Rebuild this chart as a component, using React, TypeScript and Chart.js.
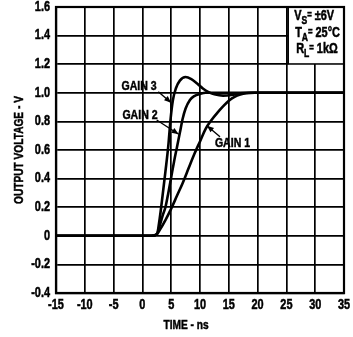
import React, { useEffect, useRef } from "react";
import { Chart, registerables } from "chart.js";

Chart.register(...registerables);

const gain1Time = [-15, 1.5, 2.5, 3, 4, 5, 6, 7, 8, 9, 10, 11, 12, 13, 14, 15, 16, 17, 18, 19.5, 35];
const gain1Volt = [0, 0, 0.01, 0.04, 0.11, 0.19, 0.28, 0.37, 0.47, 0.57, 0.66, 0.75, 0.81, 0.86, 0.905, 0.945, 0.972, 0.988, 0.997, 1.0, 1.0];

const gain2Time = [-15, 1.5, 2.5, 3, 3.5, 4, 4.5, 5, 5.5, 6, 6.5, 7, 7.5, 8.25, 9, 10, 11, 35];
const gain2Volt = [0, 0, 0.01, 0.07, 0.14, 0.2, 0.3, 0.41, 0.52, 0.62, 0.72, 0.82, 0.89, 0.95, 0.977, 0.992, 1.0, 1.0];

const gain3Time = [-15, 1.5, 2.5, 3, 3.5, 4, 4.5, 4.9, 5.3, 5.8, 6.5, 7.5, 8.5, 9.5, 10.5, 11.5, 12.5, 14, 15.5, 17, 18.5, 35];
const gain3Volt = [0, 0, 0.01, 0.12, 0.28, 0.45, 0.63, 0.82, 0.95, 1.03, 1.085, 1.11, 1.095, 1.065, 1.03, 1.005, 0.99, 0.98, 0.985, 0.997, 1.0, 1.0];

const xTicks = [-15, -10, -5, 0, 5, 10, 15, 20, 25, 30, 35];
const xTickLabels = ["-15", "-10", "-5", "0", "5", "10", "15", "20", "25", "30", "35"];
const yTicks = [-0.4, -0.2, 0, 0.2, 0.4, 0.6, 0.8, 1.0, 1.2, 1.4, 1.6];
const yTickLabels = ["-0.4", "-0.2", "0", "0.2", "0.4", "0.6", "0.8", "1.0", "1.2", "1.4", "1.6"];

const xTitle = "TIME - ns";
const yTitle = "OUTPUT VOLTAGE - V";
const conditionMain = ["V", "T", "R"];
const conditionSub = ["S", "A", "L"];
const conditionValue = ["±6V", "25°C", "1kΩ"];
const gainLabels = ["GAIN 1", "GAIN 2", "GAIN 3"];

const FONT = "'Liberation Sans', Arial, sans-serif";
const SQ = 0.78; // horizontal condensing of the lettering

function pts(t: number[], v: number[]) {
  return t.map((x, i) => ({ x, y: v[i] }));
}

function narrowText(ctx: any, text: string, x: number, y: number, size: number, align: string, baseline: string) {
  ctx.save();
  ctx.font = `bold ${size}px ${FONT}`;
  ctx.textBaseline = baseline;
  ctx.textAlign = "left";
  const w = ctx.measureText(text).width * SQ;
  let left = x;
  if (align === "center") left = x - w / 2;
  else if (align === "right") left = x - w;
  ctx.translate(left, y);
  ctx.scale(SQ, 1);
  ctx.fillStyle = "#000";
  ctx.strokeStyle = "#000";
  ctx.lineWidth = 0.5;
  ctx.fillText(text, 0, 0);
  ctx.strokeText(text, 0, 0);
  ctx.restore();
  return w;
}

const annot = {
  id: "annot",
  afterDraw(chart: any) {
    const { ctx, chartArea: a, scales } = chart;
    const xs = scales.x;
    const ys = scales.y;
    const px = (t: number) => xs.getPixelForValue(t);
    const py = (v: number) => ys.getPixelForValue(v);
    ctx.save();
    ctx.fillStyle = "#000";
    ctx.strokeStyle = "#000";

    // condition box
    const bx = px(25.3);
    const bBottom = py(1.2);
    ctx.fillStyle = "#fff";
    ctx.fillRect(bx, a.top, a.right - bx, bBottom - a.top - 1);
    ctx.fillStyle = "#000";
    ctx.lineWidth = 1.7;
    ctx.beginPath();
    ctx.moveTo(bx, a.top);
    ctx.lineTo(bx, bBottom);
    ctx.stroke();

    const rowBase = [20, 37, 53];
    const rowX = [bx + 6, bx + 7, bx + 8];
    for (let i = 0; i < 3; i++) {
      let cx = rowX[i];
      const base = a.top + rowBase[i] - 7;
      cx += narrowText(ctx, conditionMain[i], cx, base, 14, "left", "alphabetic");
      cx += narrowText(ctx, conditionSub[i], cx, base + 4, 11, "left", "alphabetic");
      cx += narrowText(ctx, "=", cx, base - 2, 10, "left", "alphabetic") + 3;
      narrowText(ctx, conditionValue[i], cx, base, 14, "left", "alphabetic");
    }

    // frame
    ctx.lineWidth = 2.2;
    ctx.strokeRect(a.left, a.top, a.right - a.left, a.bottom - a.top);

    // tick labels
    xTicks.forEach((v, i) => narrowText(ctx, xTickLabels[i], px(v), a.bottom + 12, 14, "center", "middle"));
    yTicks.forEach((v, i) => narrowText(ctx, yTickLabels[i], a.left - 6, py(v), 14, "right", "middle"));

    // gain labels with leaders
    const arrow = (x1: number, y1: number, x2: number, y2: number) => {
      ctx.lineWidth = 1.4;
      ctx.beginPath();
      ctx.moveTo(x1, y1);
      ctx.lineTo(x2, y2);
      ctx.stroke();
      const ang = Math.atan2(y2 - y1, x2 - x1);
      const L = 7, W = 2.8;
      ctx.beginPath();
      ctx.moveTo(x2, y2);
      ctx.lineTo(x2 - L * Math.cos(ang) + W * Math.sin(ang), y2 - L * Math.sin(ang) - W * Math.cos(ang));
      ctx.lineTo(x2 - L * Math.cos(ang) - W * Math.sin(ang), y2 - L * Math.sin(ang) + W * Math.cos(ang));
      ctx.closePath();
      ctx.fill();
    };
    narrowText(ctx, gainLabels[0], px(15.64), py(0.647), 13.5, "center", "middle");
    arrow(px(13.47), py(0.693), px(11.2), py(0.77));
    narrowText(ctx, gainLabels[1], px(-0.42), py(0.845), 13.5, "center", "middle");
    arrow(px(2.48), py(0.81), px(6.3), py(0.71));
    narrowText(ctx, gainLabels[2], px(-0.59), py(1.043), 13.5, "center", "middle");
    arrow(px(2.76), py(1.008), px(5.0), py(0.93));

    // axis titles
    narrowText(ctx, xTitle, 186, 325, 13, "center", "middle");
    ctx.save();
    ctx.translate(19, (a.top + a.bottom) / 2);
    ctx.rotate(-Math.PI / 2);
    narrowText(ctx, yTitle, 0, 0, 13, "center", "middle");
    ctx.restore();

    ctx.restore();
  },
};

export default function App() {
  const ref = useRef<HTMLCanvasElement | null>(null);
  useEffect(() => {
    if (!ref.current) return;
    const lineDs = (t: number[], v: number[]) => ({
      data: pts(t, v),
      borderColor: "#000",
      backgroundColor: "#000",
      borderWidth: 2.6,
      pointRadius: 0,
      cubicInterpolationMode: "monotone" as const,
      fill: false,
    });
    const chart = new Chart(ref.current, {
      type: "line",
      data: {
        datasets: [lineDs(gain1Time, gain1Volt), lineDs(gain2Time, gain2Volt), lineDs(gain3Time, gain3Volt)],
      },
      options: {
        responsive: false,
        animation: false,
        layout: { padding: { top: 7, right: 9, left: 0, bottom: 0 } },
        plugins: { legend: { display: false }, tooltip: { enabled: false } },
        scales: {
          x: {
            type: "linear",
            min: -15,
            max: 35,
            afterBuildTicks: (s: any) => {
              s.ticks = xTicks.map((v) => ({ value: v }));
            },
            afterFit: (s: any) => {
              s.height = 44;
            },
            ticks: { display: false },
            grid: { color: "#000", lineWidth: 1.7, drawTicks: false },
            border: { color: "#000", width: 2.2 },
          },
          y: {
            type: "linear",
            min: -0.4,
            max: 1.6,
            afterBuildTicks: (s: any) => {
              s.ticks = yTicks.map((v) => ({ value: v }));
            },
            afterFit: (s: any) => {
              s.width = 56;
            },
            ticks: { display: false },
            grid: { color: "#000", lineWidth: 1.7, drawTicks: false },
            border: { color: "#000", width: 2.2 },
          },
        },
      },
      plugins: [annot],
    });
    return () => chart.destroy();
  }, []);
  return (
    <div style={{ position: "absolute", left: 0, top: 0, width: 353, height: 337, background: "#fff" }}>
      <canvas ref={ref} width={353} height={337} style={{ display: "block" }} />
    </div>
  );
}
